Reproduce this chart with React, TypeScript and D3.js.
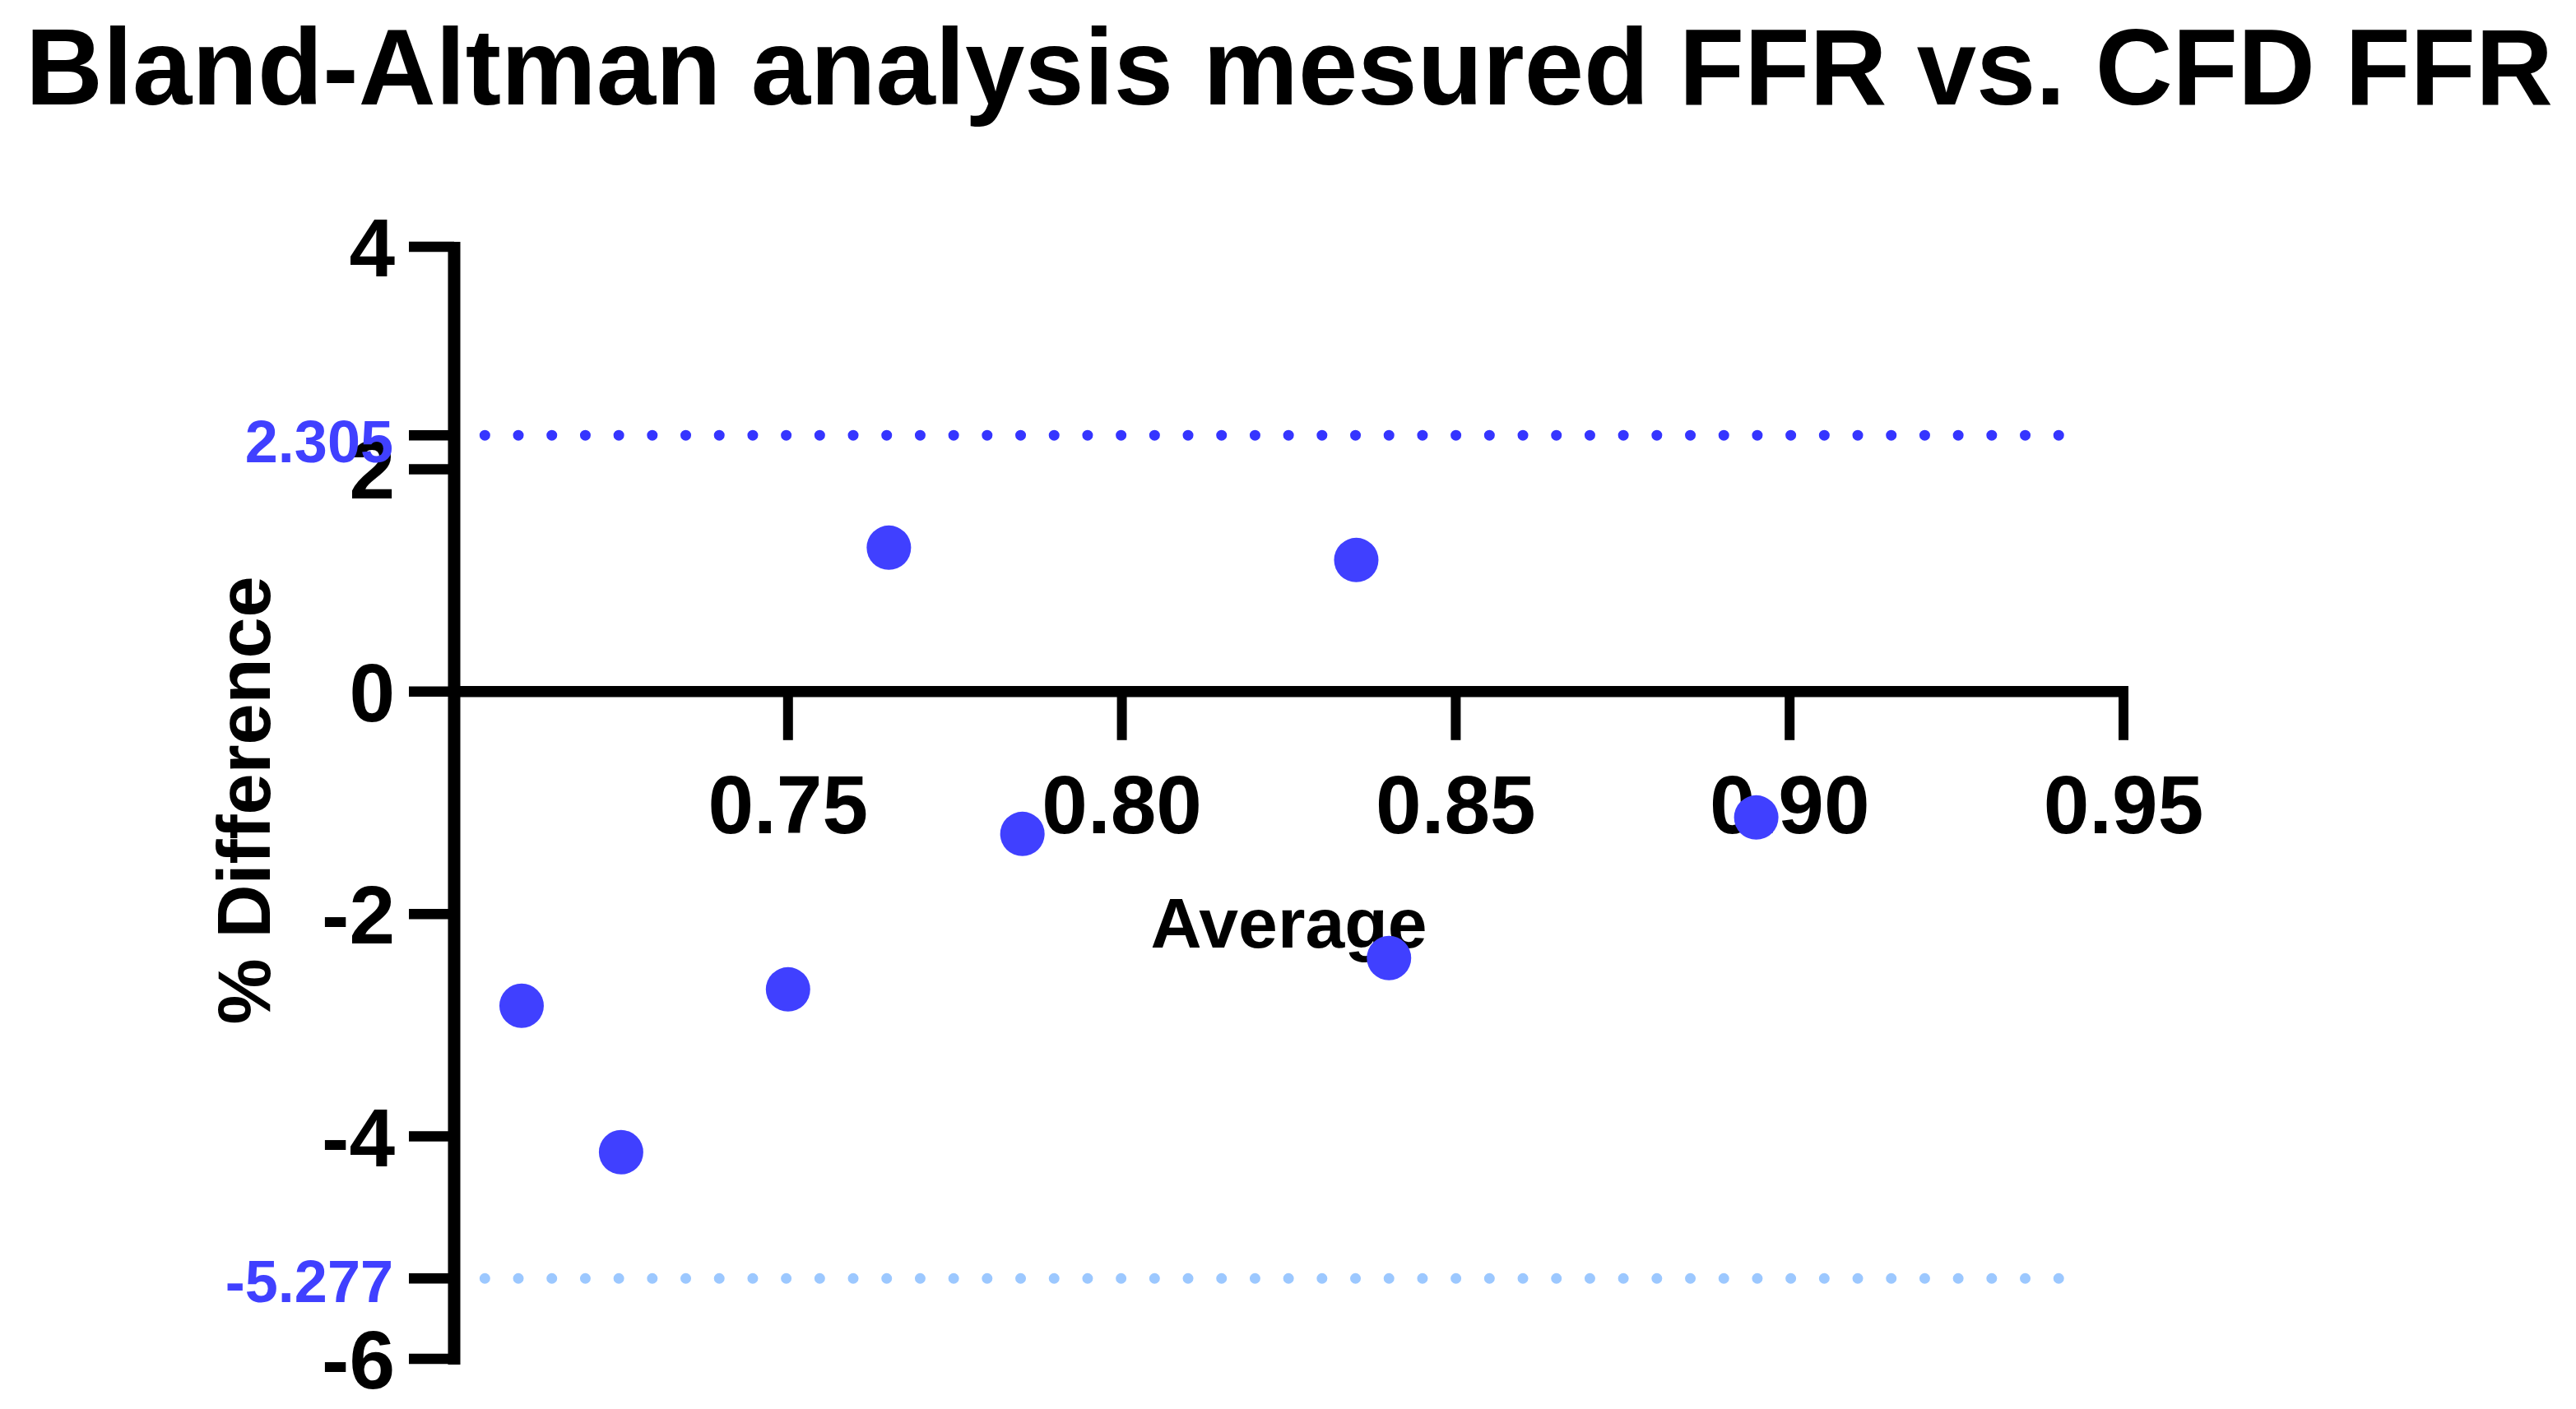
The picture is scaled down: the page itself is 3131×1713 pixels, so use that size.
import React from "react";
import * as d3 from "d3";

// ---- data ----
const averages = [0.7101, 0.725, 0.75, 0.7651, 0.7851, 0.8351, 0.84, 0.895];
const pctDifferences = [-2.825, -4.142, -2.678, 1.294, -1.28, 1.183, -2.396, -1.132];
const xTicks = [0.75, 0.8, 0.85, 0.9, 0.95];
const yTicks = [4, 2, 0, -2, -4, -6];
const upperLoA = 2.305;
const lowerLoA = -5.277;
const loaLineX = [0.7046, 0.9451];
const titleText = "Bland-Altman analysis mesured FFR vs. CFD FFR";
const xTitle = "Average";
const yTitle = "% Difference";

const W = 3131;
const H = 1713;
const FONT = "'Liberation Sans', Arial, Helvetica, sans-serif";

export default function App() {
  const x = d3.scaleLinear().domain([0.7, 0.95]).range([552, 2581]);
  const y = d3.scaleLinear().domain([-6, 4]).range([1652, 300]);
  const axisX = x(0.7);
  const zeroY = y(0);
  const tickLen = 55;

  return (
    <svg
      width={W}
      height={H}
      viewBox={`0 0 ${W} ${H}`}
      style={{ position: "absolute", left: 0, top: 0, background: "#fff", display: "block" }}
    >
      <rect x={0} y={0} width={W} height={H} fill="#fff" />
      <text
        x={1567}
        y={127}
        textAnchor="middle"
        fontFamily={FONT}
        fontWeight="bold"
        fontSize={132}
        textLength={3072}
        lengthAdjust="spacingAndGlyphs"
        fill="#000"
      >
        {titleText}
      </text>

      {/* LoA dotted lines */}
      <line
        x1={x(loaLineX[0])}
        x2={x(loaLineX[1])}
        y1={y(upperLoA)}
        y2={y(upperLoA)}
        stroke="#3535ff"
        strokeWidth={13}
        strokeLinecap="round"
        strokeDasharray="0 40.7"
      />
      <line
        x1={x(loaLineX[0])}
        x2={x(loaLineX[1])}
        y1={y(lowerLoA)}
        y2={y(lowerLoA)}
        stroke="#9cc8ff"
        strokeWidth={13}
        strokeLinecap="round"
        strokeDasharray="0 40.7"
      />

      {/* Y axis */}
      <line x1={axisX} x2={axisX} y1={y(4) - 6} y2={y(-6) + 7} stroke="#000" strokeWidth={15} />
      {[...yTicks, upperLoA, lowerLoA].map((t) => (
        <line
          key={"yt" + t}
          x1={axisX - tickLen}
          x2={axisX}
          y1={y(t)}
          y2={y(t)}
          stroke="#000"
          strokeWidth={12.5}
        />
      ))}
      {yTicks.map((t) => (
        <text
          key={"yl" + t}
          x={480}
          y={y(t)}
          dy="0.36em"
          textAnchor="end"
          fontFamily={FONT}
          fontWeight="bold"
          fontSize={100}
          fill="#000"
        >
          {t}
        </text>
      ))}
      <text
        x={478}
        y={y(upperLoA)}
        dy="0.46em"
        textAnchor="end"
        fontFamily={FONT}
        fontWeight="bold"
        fontSize={72}
        fill="#4040ff"
      >
        {upperLoA.toFixed(3)}
      </text>
      <text
        x={478}
        y={y(lowerLoA)}
        dy="0.4em"
        textAnchor="end"
        fontFamily={FONT}
        fontWeight="bold"
        fontSize={72}
        fill="#4040ff"
      >
        {lowerLoA.toFixed(3)}
      </text>

      {/* X axis at y=0 */}
      <line x1={axisX} x2={x(0.95) + 6} y1={zeroY} y2={zeroY} stroke="#000" strokeWidth={13.5} />
      {xTicks.map((t) => (
        <line
          key={"xt" + t}
          x1={x(t)}
          x2={x(t)}
          y1={zeroY}
          y2={zeroY + 59}
          stroke="#000"
          strokeWidth={12}
        />
      ))}
      {xTicks.map((t) => (
        <text
          key={"xl" + t}
          x={x(t)}
          y={1013}
          textAnchor="middle"
          fontFamily={FONT}
          fontWeight="bold"
          fontSize={100}
          fill="#000"
        >
          {d3.format(".2f")(t)}
        </text>
      ))}

      {/* axis titles */}
      <text
        x={(x(0.7) + x(0.95)) / 2}
        y={1152}
        textAnchor="middle"
        fontFamily={FONT}
        fontWeight="bold"
        fontSize={86}
        fill="#000"
      >
        {xTitle}
      </text>
      <text
        transform={`translate(328, 973) rotate(-90)`}
        textAnchor="middle"
        fontFamily={FONT}
        fontWeight="bold"
        fontSize={90}
        fill="#000"
      >
        {yTitle}
      </text>

      {/* points */}
      {averages.map((a, i) => (
        <circle key={"p" + i} cx={x(a)} cy={y(pctDifferences[i])} r={27} fill="#4040ff" />
      ))}
    </svg>
  );
}
